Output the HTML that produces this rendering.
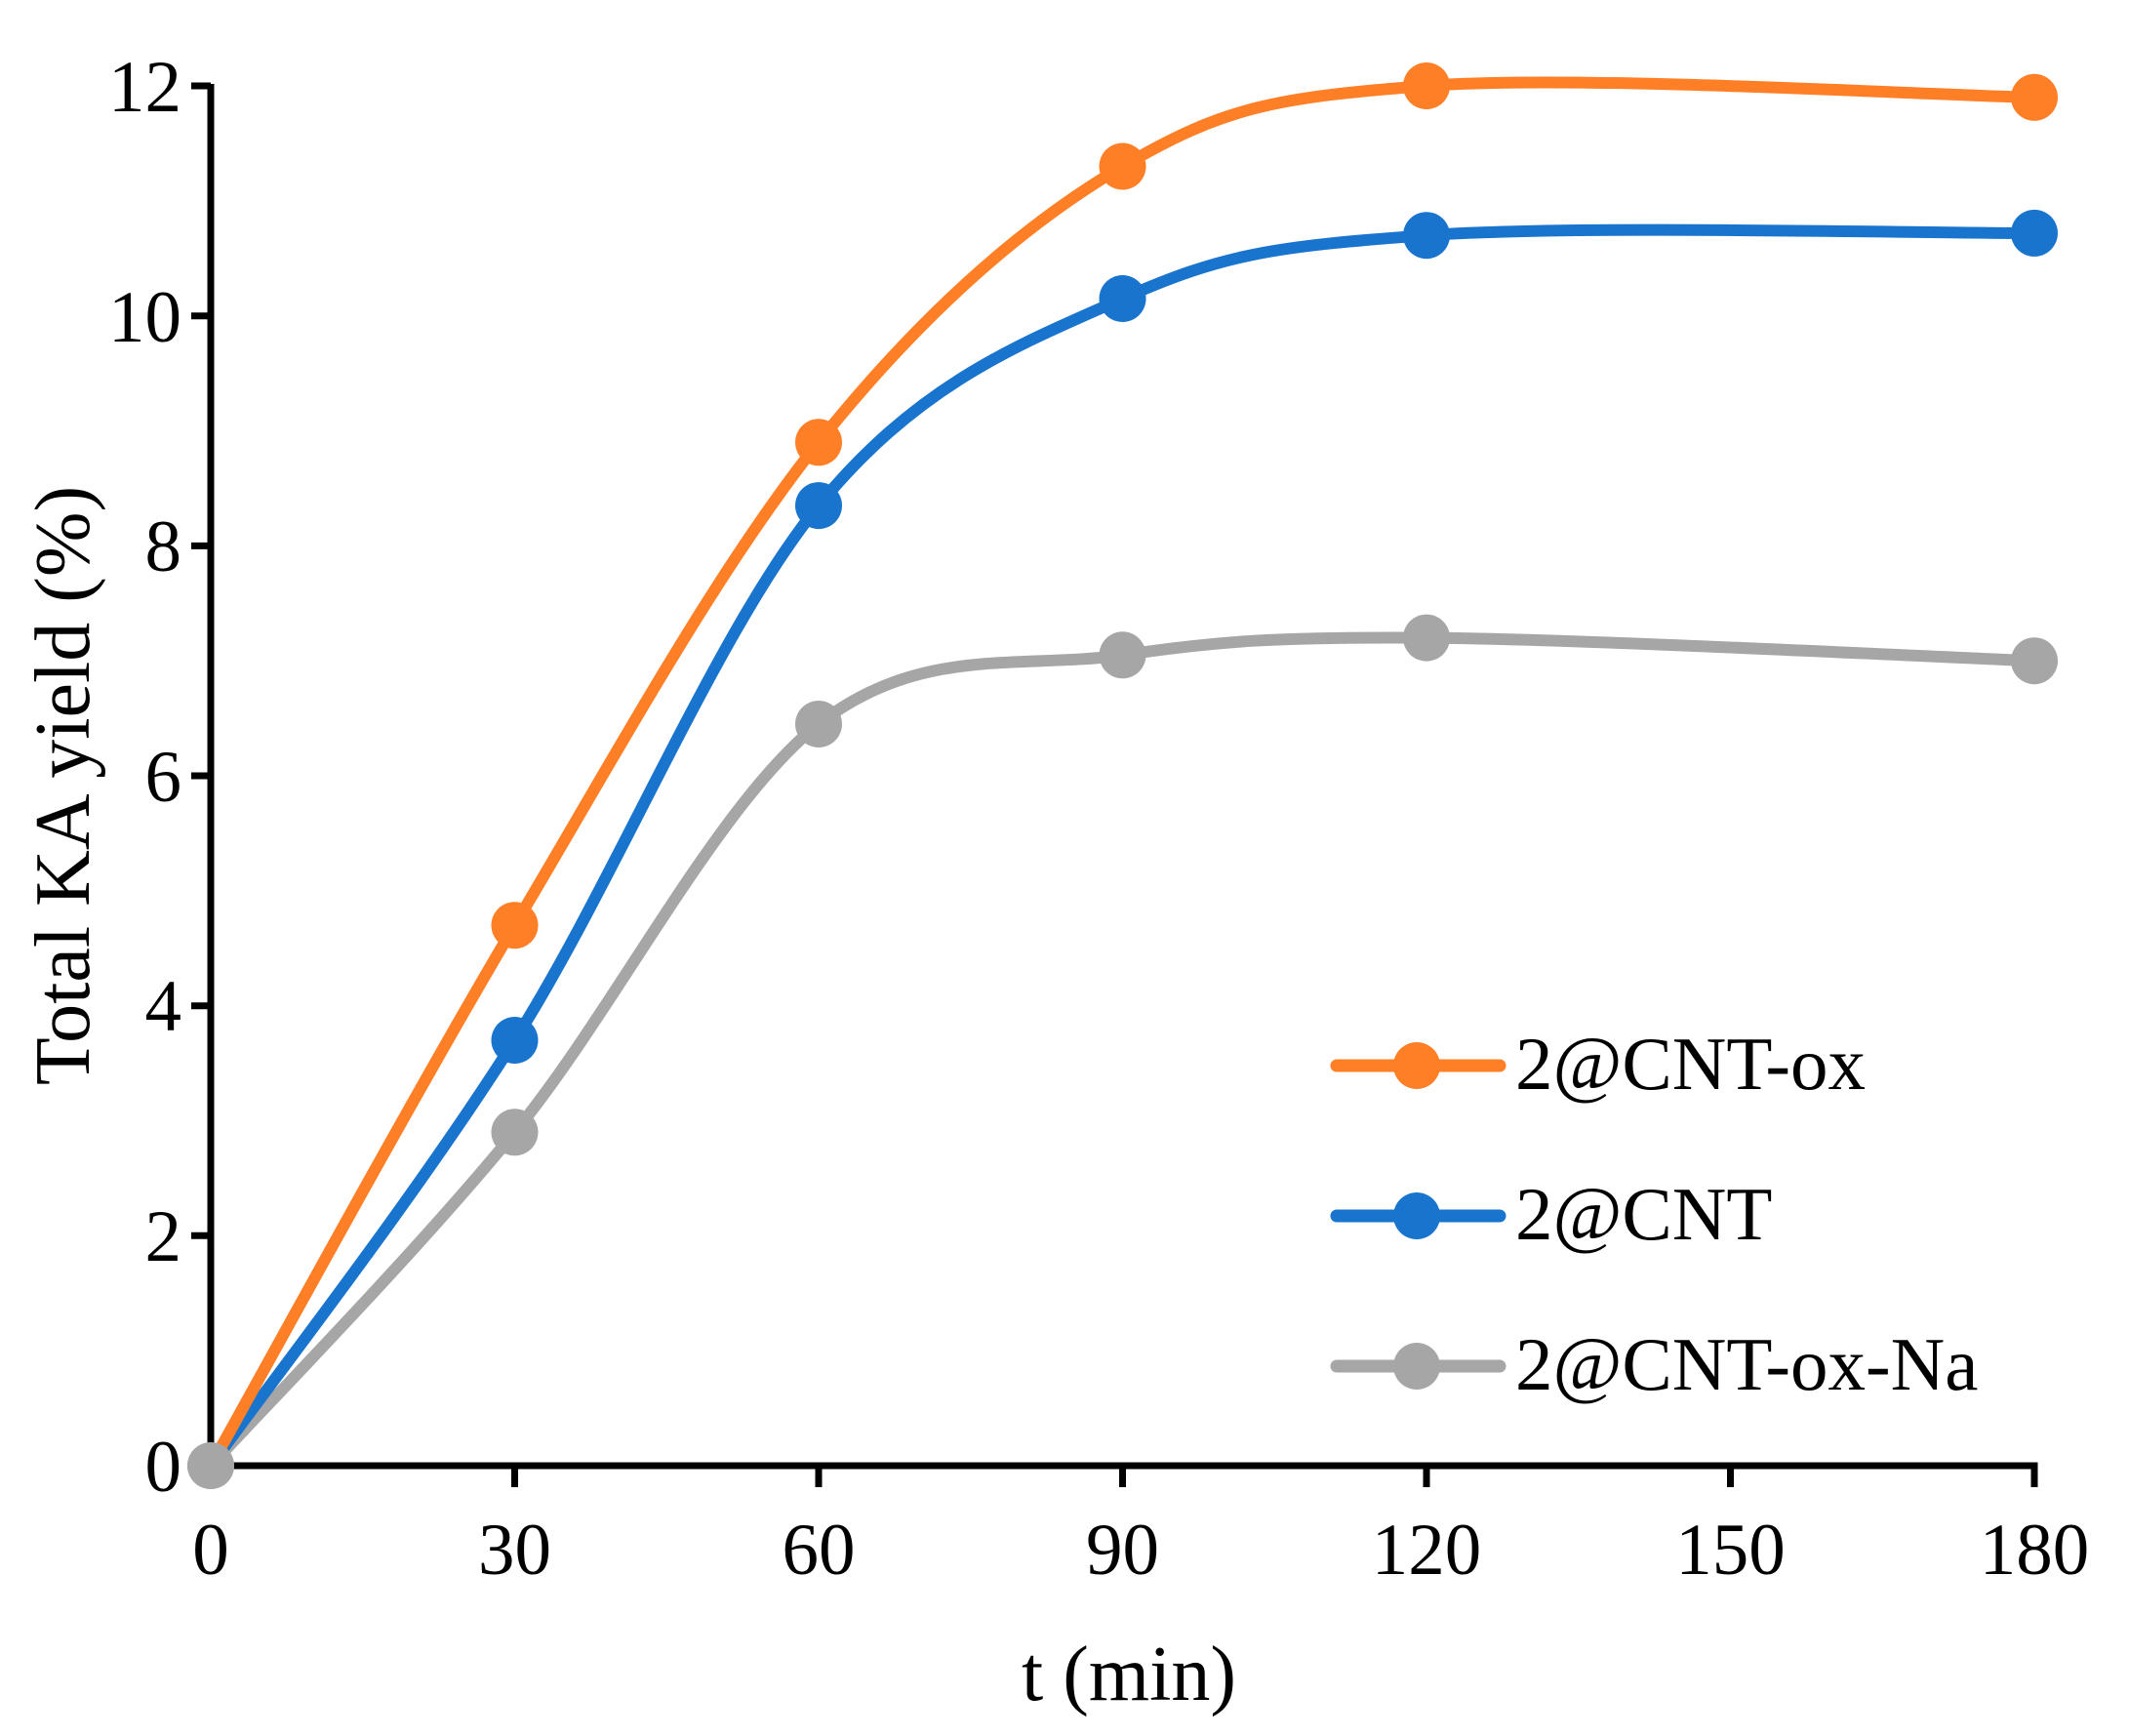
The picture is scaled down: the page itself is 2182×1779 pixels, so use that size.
<!DOCTYPE html>
<html><head><meta charset="utf-8"><style>html,body{margin:0;padding:0;background:#fff}svg{display:block}</style></head>
<body>
<svg width="2182" height="1779" viewBox="0 0 2182 1779" xmlns="http://www.w3.org/2000/svg" font-family="'Liberation Serif', serif">
<rect width="2182" height="1779" fill="#fff"/>
<g stroke="#000" stroke-width="7" fill="none">
<path d="M216 86 V1502 H2085 V1524"/>
<path d="M196 1502H216M196 1266.3H216M196 1030.7H216M196 795H216M196 559.4H216M196 323.7H216M196 88H216"/>
<path d="M527.5 1502V1524M839 1502V1524M1150.5 1502V1524M1462 1502V1524M1773.5 1502V1524"/>
</g>
<g font-size="75" fill="#000" text-anchor="end">
<text x="186" y="1528">0</text>
<text x="186" y="1292">2</text>
<text x="186" y="1056">4</text>
<text x="186" y="821">6</text>
<text x="186" y="585">8</text>
<text x="186" y="350">10</text>
<text x="186" y="114">12</text>
</g>
<g font-size="75" fill="#000" text-anchor="middle">
<text x="216" y="1613">0</text>
<text x="527.5" y="1613">30</text>
<text x="839" y="1613">60</text>
<text x="1150.5" y="1613">90</text>
<text x="1462" y="1613">120</text>
<text x="1773.5" y="1613">150</text>
<text x="2085" y="1613">180</text>
</g>
<g fill="none" stroke-width="12">
<path stroke="#A6A6A6" d="M216 1502 C267.9 1445.05 423.7 1287 527.5 1160.3 C631.3 1033.6 735.2 823.5 839 742 C942.8 660.5 1046.7 686 1150.5 671.3 C1254.3 656.6 1306.25 652.6 1462 653.6 C1617.75 654.6 1981.2 673.3 2085 677.2"/>
<path stroke="#1874CD" d="M216 1502 C267.9 1429.3 423.7 1230 527.5 1066 C631.3 902 735.2 644.8 839 518.1 C942.8 391.4 1046.7 352.2 1150.5 306 C1254.3 259.8 1306.25 252.4 1462 241.2 C1617.75 230 1981.2 239.3 2085 238.9"/>
<path stroke="#FF7F27" d="M216 1502 C267.9 1409.7 423.7 1123 527.5 948.2 C631.3 773.4 735.2 582.9 839 453.3 C942.8 323.7 1046.7 231.4 1150.5 170.5 C1254.3 109.6 1306.25 99.8 1462 88 C1617.75 76.2 1981.2 97.8 2085 99.8"/>
</g>
<g fill="#A6A6A6">
<circle cx="216" cy="1502" r="24"/><circle cx="527.5" cy="1160.3" r="24"/><circle cx="839" cy="742" r="24"/><circle cx="1150.5" cy="671.3" r="24"/><circle cx="1462" cy="653.6" r="24"/><circle cx="2085" cy="677.2" r="24"/>
</g>
<g fill="#1874CD">
<circle cx="527.5" cy="1066" r="24"/><circle cx="839" cy="518.1" r="24"/><circle cx="1150.5" cy="306" r="24"/><circle cx="1462" cy="241.2" r="24"/><circle cx="2085" cy="238.9" r="24"/>
</g>
<g fill="#FF7F27">
<circle cx="527.5" cy="948.2" r="24"/><circle cx="839" cy="453.3" r="24"/><circle cx="1150.5" cy="170.5" r="24"/><circle cx="1462" cy="88" r="24"/><circle cx="2085" cy="99.8" r="24"/>
</g>
<circle cx="216" cy="1502" r="24" fill="#A6A6A6"/>
<text x="1157" y="1742" font-size="80" text-anchor="middle">t (min)</text>
<text transform="translate(91,805) rotate(-90)" font-size="80" text-anchor="middle">Total KA yield (%)</text>
<g font-size="77" fill="#000">
<line x1="1370" y1="1092" x2="1537" y2="1092" stroke="#FF7F27" stroke-width="13" stroke-linecap="round"/>
<circle cx="1452" cy="1092" r="24" fill="#FF7F27"/>
<text x="1553" y="1116">2@CNT-ox</text>
<line x1="1370" y1="1246" x2="1537" y2="1246" stroke="#1874CD" stroke-width="13" stroke-linecap="round"/>
<circle cx="1452" cy="1246" r="24" fill="#1874CD"/>
<text x="1553" y="1270">2@CNT</text>
<line x1="1370" y1="1400" x2="1537" y2="1400" stroke="#A6A6A6" stroke-width="13" stroke-linecap="round"/>
<circle cx="1452" cy="1400" r="24" fill="#A6A6A6"/>
<text x="1553" y="1424">2@CNT-ox-Na</text>
</g>
</svg>
</body></html>
